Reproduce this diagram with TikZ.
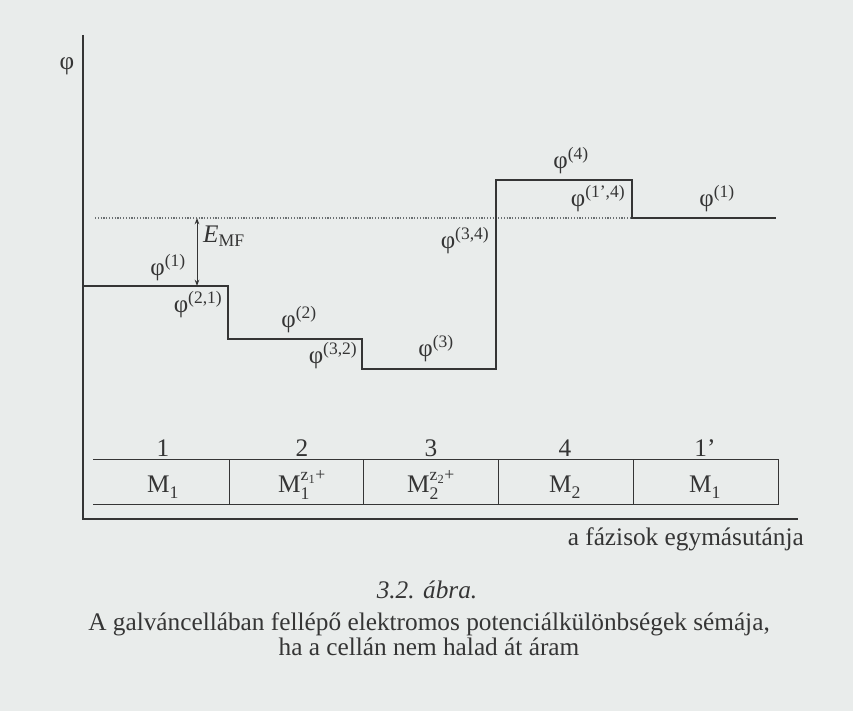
\documentclass[tikz,border=0pt]{standalone}
\usepackage{fontspec}
\usepackage{amsmath}
\setmainfont{Liberation Serif}
\usetikzlibrary{arrows.meta,positioning,calc}
\definecolor{Paper}{HTML}{E9ECEB}
\definecolor{Ink}{HTML}{353535}
\definecolor{Muted}{HTML}{6B7072}
\newcommand\phz[1]{φ\textsuperscript{(#1)}}
\newcommand\ionM[2]{M$_{\text{#1}}^{\text{#2}}$}
\begin{document}
\begin{tikzpicture}[x=1pt,y=-1pt,
    lab/.style={font=\fontsize{25.3}{29}\selectfont,text=Ink,inner sep=0pt},
    ph/.style={font=\fontsize{25}{29}\selectfont,text=Ink,inner sep=0pt},
    ln/.style={draw=Ink,line width=1.4pt},
    cell/.style={draw=Ink,line width=1pt},
    dots/.style={draw=Muted,line width=1.1pt,dash pattern=on 1.2pt off 1.6pt},
    a/.style={{Stealth[length=2.2mm,width=1.6mm]}-{Stealth[length=2.2mm,width=1.6mm]},draw=Ink,line width=0.9pt}]
    \fill[Paper] (0,0) rectangle (853,711);
    \useasboundingbox (0,0) rectangle (853,711);
    % axes
    \draw[ln] (83,35) -- (83,519) -- (798,519);
    \node[lab] (phi) at (67,66) {φ};
    % zero level and E_MF
    \coordinate (z0) at (197,218);
    \coordinate (z1) at (197,286);
    \draw[dots] (95,218) -- (632,218);
    \draw[a] (z1) -- (z0);
    \node[lab,anchor=west] (emf) at (203,236) {\textit{E}\textsubscript{MF}};
    % potential steps
    \draw[ln] (83,286) -- (228,286) -- (228,339) -- (362,339) -- (362,369)
      -- (496,369) -- (496,180) -- (632,180) -- (632,218) -- (776,218);
    \node[ph] (p1) at (168,268) {\phz{1}};
    \node[ph] (p21) at (198,305) {\phz{2,1}};
    \node[ph] (p2) at (299,320) {\phz{2}};
    \node[ph] (p32) at (333,356) {\phz{3,2}};
    \node[ph] (p3) at (436,349) {\phz{3}};
    \node[ph] (p34) at (465,241) {\phz{3,4}};
    \node[ph] (p4) at (571,161) {\phz{4}};
    \node[ph] (p14) at (598,199) {\phz{1',4}};
    \node[ph] (p1b) at (717,199) {\phz{1}};
    % phases
    \draw[cell] (93,459) -- (778,459) -- (778,504) -- (93,504);
    \foreach \x in {229,363,498,633}
      \draw[cell] (\x,459) -- (\x,504);
    \node[lab,anchor=base] (n1) at (163,456) {1};
    \node[lab,anchor=base] (n2) at (302,456) {2};
    \node[lab,anchor=base] (n3) at (431,456) {3};
    \node[lab,anchor=base] (n4) at (565,456) {4};
    \node[lab,anchor=base] (n5) at (705,456) {1'};
    \node[lab,anchor=base] (m1) at (163,492) {\ionM{1}{}};
    \node[lab,anchor=base] (m2) at (302,492) {\ionM{1}{z$_\text{1}$+}};
    \node[lab,anchor=base] (m3) at (431,492) {\ionM{2}{z$_\text{2}$+}};
    \node[lab,anchor=base] (m4) at (565,492) {\ionM{2}{}};
    \node[lab,anchor=base] (m5) at (705,492) {\ionM{1}{}};
    \node[lab,anchor=base east] (seq) at (804,545) {a fázisok egymásutánja};
    % caption
    \node[lab,anchor=base] (cap) at (427,598) {\textit{3.2. ábra.}};
    \node[lab,anchor=base] (cap1) at (429,630) {A galváncellában fellépő elektromos potenciálkülönbségek sémája,};
    \node[lab,anchor=base] (cap2) at (429,655) {ha a cellán nem halad át áram};
\end{tikzpicture}
\end{document}
